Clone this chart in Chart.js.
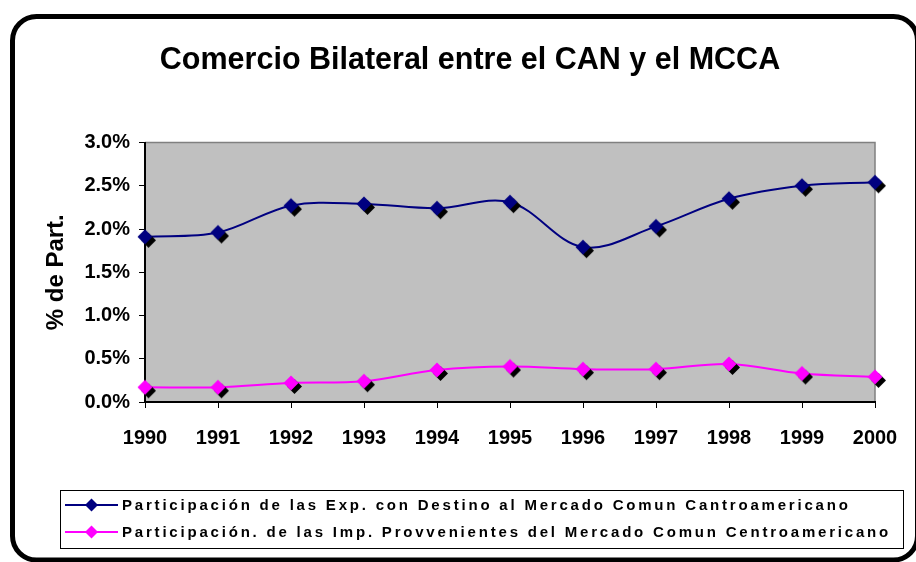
<!DOCTYPE html>
<html>
<head>
<meta charset="utf-8">
<script src="https://cdn.jsdelivr.net/npm/chart.js@4.4.1/dist/chart.umd.min.js"></script>
<style>
  html, body { margin: 0; padding: 0; background: #fff; overflow: hidden; }
  canvas { display: block; }
</style>
</head>
<body>
<canvas id="grafica" width="916" height="562"></canvas>
<script>
// datos (porcentaje de participacion)
const anios = ['1990', '1991', '1992', '1993', '1994', '1995', '1996', '1997', '1998', '1999', '2000'];
const exportaciones = [1.91, 1.96, 2.27, 2.29, 2.24, 2.31, 1.79, 2.03, 2.35, 2.50, 2.54];
const importaciones = [0.17, 0.17, 0.22, 0.24, 0.37, 0.41, 0.38, 0.38, 0.44, 0.33, 0.29];
const etiquetaExp = 'Participación de las Exp. con Destino al Mercado Comun Cantroamericano';
const etiquetaImp = 'Participación. de las Imp. Provvenientes del Mercado Comun Centroamericano';
const titulo = 'Comercio Bilateral entre el CAN y el MCCA';
const tituloEjeY = '% de Part.';

const AZUL = '#000080';
const ROSA = '#FF00FF';
const FUENTE = 'Arial, "Liberation Sans", sans-serif';

// rombo con sombra negra, como en Excel
function rombo(color) {
    const c = document.createElement('canvas');
    c.width = 30;
    c.height = 30;
    const g = c.getContext('2d');
    const dibujar = (cx, cy, r, fill) => {
        g.beginPath();
        g.moveTo(cx, cy - r);
        g.lineTo(cx + r, cy);
        g.lineTo(cx, cy + r);
        g.lineTo(cx - r, cy);
        g.closePath();
        g.fillStyle = fill;
        g.fill();
    };
    dibujar(18.5, 18.5, 7.5, '#000');
    dibujar(15, 15, 7.5, color);
    return c;
}

// marco redondeado y fondo gris del area de trazado
const fondo = {
    id: 'fondo',
    afterLayout(chart) {
        // el titulo va algo corrido a la derecha, centrado sobre el grafico
        chart.titleBlock.left += 45;
    },
    beforeDraw(chart) {
        const ctx = chart.ctx;
        const a = chart.chartArea;
        ctx.save();
        ctx.fillStyle = '#fff';
        ctx.fillRect(0, 0, chart.width, chart.height);
        ctx.beginPath();
        ctx.roundRect(12.5, 16.5, 905, 543.5, 24);
        ctx.lineWidth = 5;
        ctx.strokeStyle = '#000';
        ctx.stroke();
        ctx.fillStyle = '#C0C0C0';
        ctx.fillRect(a.left, a.top, a.right - a.left, a.bottom - a.top);
        ctx.strokeStyle = '#808080';
        ctx.lineWidth = 1.5;
        ctx.beginPath();
        ctx.moveTo(a.left, a.top);
        ctx.lineTo(a.right, a.top);
        ctx.lineTo(a.right, a.bottom);
        ctx.stroke();
        ctx.restore();
    }
};

// leyenda con recuadro debajo del grafico
const leyenda = {
    id: 'leyenda',
    afterDraw(chart) {
        const ctx = chart.ctx;
        ctx.save();
        ctx.strokeStyle = '#000';
        ctx.lineWidth = 1;
        ctx.strokeRect(60.5, 490.5, 843, 58);
        const filas = [505, 532];
        chart.data.datasets.forEach((ds, i) => {
            const y = filas[i];
            ctx.strokeStyle = ds.borderColor;
            ctx.lineWidth = 2;
            ctx.beginPath();
            ctx.moveTo(65, y);
            ctx.lineTo(118, y);
            ctx.stroke();
            ctx.fillStyle = ds.borderColor;
            ctx.beginPath();
            ctx.moveTo(91.5, y - 6.5);
            ctx.lineTo(98, y);
            ctx.lineTo(91.5, y + 6.5);
            ctx.lineTo(85, y);
            ctx.closePath();
            ctx.fill();
            ctx.fillStyle = '#000';
            ctx.font = 'bold 15px ' + FUENTE;
            ctx.letterSpacing = '2.8px';
            ctx.textBaseline = 'middle';
            ctx.textAlign = 'left';
            ctx.fillText(ds.label, 122, y + 1);
        });
        ctx.restore();
    }
};

const ctx = document.getElementById('grafica').getContext('2d');

const grafica = new Chart(ctx, {
    type: 'line',
    data: {
        labels: anios,
        datasets: [{
            label: etiquetaExp,
            data: exportaciones,
            borderColor: AZUL,
            backgroundColor: AZUL,
            borderWidth: 2,
            tension: 0.35,
            pointStyle: rombo(AZUL),
            clip: false
        }, {
            label: etiquetaImp,
            data: importaciones,
            borderColor: ROSA,
            backgroundColor: ROSA,
            borderWidth: 2,
            tension: 0.35,
            pointStyle: rombo(ROSA),
            clip: false
        }]
    },
    options: {
        responsive: false,
        animation: false,
        devicePixelRatio: 1,
        layout: {
            padding: { left: 20, right: 41, top: 0, bottom: 110 }
        },
        scales: {
            x: {
                offset: false,
                afterFit(scale) { scale.height = 50; },
                grid: {
                    drawOnChartArea: false,
                    drawTicks: true,
                    tickLength: 6,
                    color: '#000'
                },
                border: { display: true, color: '#000', width: 2 },
                ticks: {
                    color: '#000',
                    padding: 18,
                    maxRotation: 0,
                    font: { family: FUENTE, size: 20, weight: 'bold' }
                }
            },
            y: {
                min: 0,
                max: 3,
                afterFit(scale) { scale.width = 125; },
                grid: {
                    drawOnChartArea: false,
                    drawTicks: true,
                    tickLength: 6,
                    color: '#000'
                },
                border: { display: true, color: '#000', width: 2 },
                ticks: {
                    stepSize: 0.5,
                    color: '#000',
                    padding: 9,
                    font: { family: FUENTE, size: 20, weight: 'bold' },
                    callback: (v) => v.toFixed(1) + '%'
                },
                title: {
                    display: true,
                    text: tituloEjeY,
                    color: '#000',
                    padding: { top: 22, bottom: 0 },
                    font: { family: FUENTE, size: 24, weight: 'bold' }
                }
            }
        },
        plugins: {
            legend: { display: false },
            tooltip: { enabled: false },
            title: {
                display: true,
                text: titulo,
                color: '#000',
                padding: { top: 42, bottom: 63.9 },
                font: { family: FUENTE, size: 30.5, weight: 'bold' }
            }
        }
    },
    plugins: [fondo, leyenda]
});
</script>
</body>
</html>
